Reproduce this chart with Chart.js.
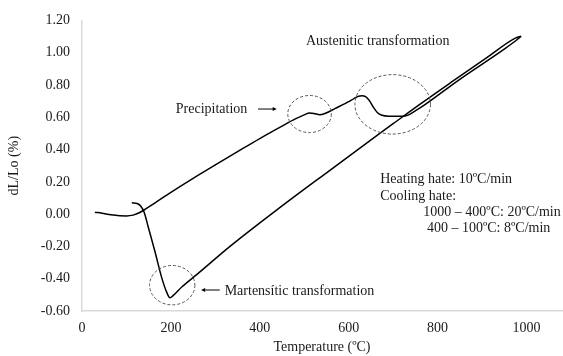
<!DOCTYPE html>
<html>
<head>
<meta charset="utf-8">
<script src="https://cdn.jsdelivr.net/npm/chart.js@4/dist/chart.umd.min.js"></script>
<style>
  body { margin: 0; background: #fff; }
  canvas { display: block; }
</style>
</head>
<body>
<canvas id="dil" width="563" height="356"></canvas>
<script>
// heating branch: temperature (ºC) and dL/Lo (%)
const heatT = [29, 45, 65, 85, 100, 115, 130, 145, 170, 200, 250, 300, 350, 400, 450, 480, 500, 512, 522, 535, 548, 570, 600, 612, 622, 630, 638, 646, 655, 665, 675, 690, 720, 735, 750, 770, 850, 950, 980, 988];
const heatV = [0.012, 0.006, -0.004, -0.010, -0.011, -0.006, 0.010, 0.035, 0.080, 0.135, 0.222, 0.305, 0.387, 0.468, 0.545, 0.590, 0.615, 0.627, 0.624, 0.615, 0.625, 0.655, 0.697, 0.716, 0.730, 0.734, 0.728, 0.705, 0.665, 0.628, 0.613, 0.607, 0.606, 0.615, 0.640, 0.675, 0.835, 1.022, 1.083, 1.102];

// cooling branch
const coolT = [988, 975, 910, 835, 760, 700, 670, 557, 445, 333, 258, 225, 205, 198, 190, 179, 164, 149, 140, 132, 124, 112];
const coolV = [1.102, 1.090, 0.968, 0.825, 0.680, 0.560, 0.500, 0.270, 0.040, -0.200, -0.375, -0.450, -0.505, -0.518, -0.480, -0.390, -0.230, -0.080, 0.010, 0.050, 0.066, 0.070];

const xTicks = [0, 200, 400, 600, 800, 1000];

// dashed circles around the transformations (data units)
const circles = [
  { x: 512, y: 0.62, rx: 49, ry: 0.115 },
  { x: 699, y: 0.68, rx: 85, ry: 0.184 },
  { x: 203, y: -0.44, rx: 51, ry: 0.122 }
];

const notes = [
  { text: 'Austenitic transformation', x: 504, y: 1.072 },
  { text: 'Precipitation', x: 211, y: 0.651 },
  { text: 'Martensític transformation', x: 321, y: -0.48 },
  { text: 'Heating hate: 10ºC/min', x: 671, y: 0.214 },
  { text: 'Cooling hate:', x: 671, y: 0.112 },
  { text: '1000 – 400ºC: 20ºC/min', x: 768, y: 0.010 },
  { text: '400 – 100ºC: 8ºC/min', x: 776, y: -0.088 }
];

// arrows: from -> to (head at "to")
const arrows = [
  { x1: 396, y1: 0.651, x2: 438, y2: 0.651 },
  { x1: 310, y1: -0.47, x2: 268, y2: -0.47 }
];

const FONT = '"Times New Roman", "Liberation Serif", serif';

function pts(ts, vs){
  return ts.map((t, i) => ({ x: t, y: vs[i] }));
}

const annotate = {
  id: 'annotate',
  afterDatasetsDraw(chart){
    const ctx = chart.ctx;
    const sx = chart.scales.x, sy = chart.scales.y;
    ctx.save();
    ctx.strokeStyle = '#555';
    ctx.lineWidth = 1;
    ctx.setLineDash([3, 2]);
    circles.forEach(c => {
      const cx = sx.getPixelForValue(c.x), cy = sy.getPixelForValue(c.y);
      const rx = Math.abs(sx.getPixelForValue(c.x + c.rx) - cx);
      const ry = Math.abs(sy.getPixelForValue(c.y + c.ry) - cy);
      ctx.beginPath();
      ctx.ellipse(cx, cy, rx, ry, 0, 0, Math.PI * 2);
      ctx.stroke();
    });
    ctx.setLineDash([]);

    ctx.strokeStyle = '#000';
    ctx.fillStyle = '#000';
    arrows.forEach(a => {
      const x1 = sx.getPixelForValue(a.x1), y1 = sy.getPixelForValue(a.y1);
      const x2 = sx.getPixelForValue(a.x2), y2 = sy.getPixelForValue(a.y2);
      const dir = Math.sign(x2 - x1);
      ctx.beginPath();
      ctx.moveTo(x1, y1);
      ctx.lineTo(x2 - dir * 3, y2);
      ctx.stroke();
      ctx.beginPath();
      ctx.moveTo(x2, y2);
      ctx.lineTo(x2 - dir * 4, y2 - 2);
      ctx.lineTo(x2 - dir * 4, y2 + 2);
      ctx.closePath();
      ctx.fill();
    });

    ctx.font = '14px ' + FONT;
    ctx.fillStyle = '#1a1a1a';
    ctx.textAlign = 'left';
    ctx.textBaseline = 'middle';
    notes.forEach(n => {
      ctx.fillText(n.text, sx.getPixelForValue(n.x), sy.getPixelForValue(n.y));
    });
    ctx.restore();
  }
};

const lineStyle = {
  borderColor: '#000',
  borderWidth: 1.5,
  pointRadius: 0,
  fill: false,
  cubicInterpolationMode: 'monotone'
};

new Chart(document.getElementById('dil'), {
  type: 'line',
  data: {
    datasets: [
      Object.assign({ label: 'Heating', data: pts(heatT, heatV) }, lineStyle),
      Object.assign({ label: 'Cooling', data: pts(coolT, coolV) }, lineStyle)
    ]
  },
  options: {
    responsive: false,
    animation: false,
    layout: { padding: { top: 17, right: 1, left: 0, bottom: 0 } },
    plugins: { legend: { display: false }, tooltip: { enabled: false } },
    scales: {
      x: {
        type: 'linear',
        min: 0,
        max: 1080,
        grid: { display: false, drawTicks: false },
        border: { display: true, color: '#d9d9d9', width: 1.5 },
        afterBuildTicks: s => { s.ticks = xTicks.map(v => ({ value: v })); },
        afterFit: s => { s.height = 45; },
        ticks: { padding: 9, color: '#1a1a1a', maxRotation: 0, font: { family: FONT, size: 14 },
          callback: v => String(v) },
        title: { display: true, text: 'Temperature (ºC)', color: '#1a1a1a', padding: { top: 0, bottom: 0 }, font: { family: FONT, size: 14 } }
      },
      y: {
        min: -0.6,
        max: 1.2,
        grid: { display: false, drawTicks: false },
        border: { display: true, color: '#d9d9d9', width: 1.5 },
        afterFit: s => { s.width = 82; },
        ticks: { stepSize: 0.2, padding: 12, color: '#1a1a1a', font: { family: FONT, size: 14 },
          callback: v => v.toFixed(2) },
        title: { display: true, text: 'dL/Lo (%)', color: '#1a1a1a', padding: { top: 6, bottom: 0 }, font: { family: FONT, size: 14 } }
      }
    }
  },
  plugins: [annotate]
});
</script>
</body>
</html>
